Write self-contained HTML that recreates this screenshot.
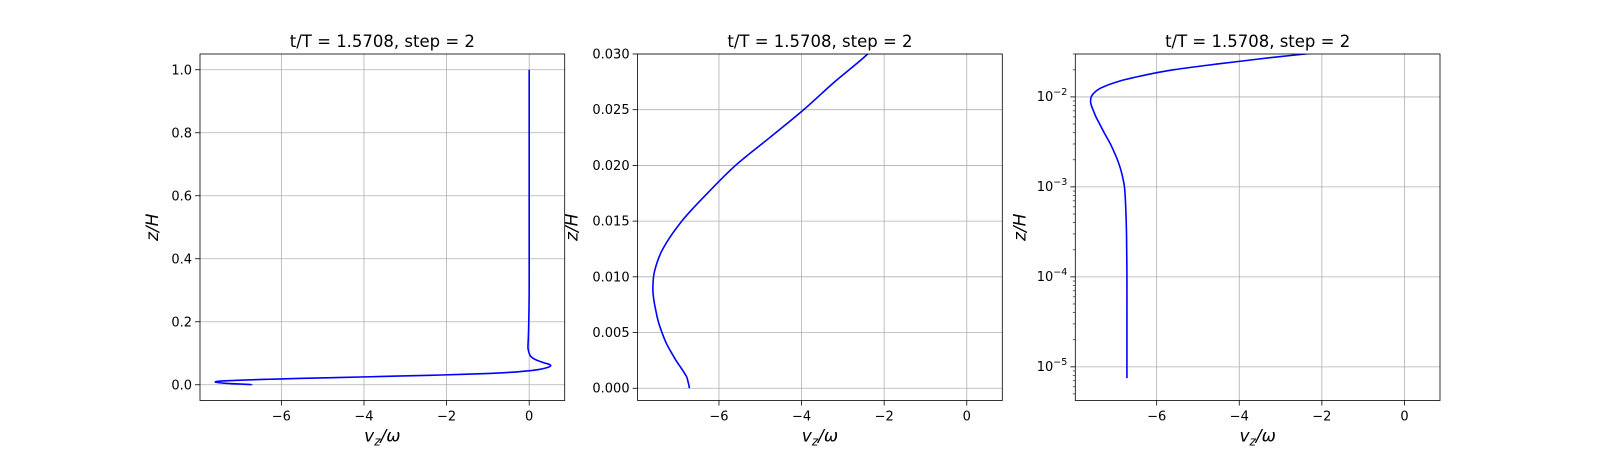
<!DOCTYPE html>
<html><head><meta charset="utf-8"><style>
body{margin:0;background:#fff;}
svg{display:block;font-family:"DejaVu Sans","Liberation Sans",sans-serif;}
</style></head><body>
<svg id="fig" width="1600" height="450" viewBox="0 0 1600 450" xmlns="http://www.w3.org/2000/svg"></svg>
<script>
const zVals=[7.5e-6,1e-5,3e-5,1e-4,3e-4,6e-4,1e-3,1.5e-3,2e-3,2.5e-3,3e-3,4e-3,5e-3,6e-3,7e-3,8e-3,9e-3,0.0105,0.0125,0.015,0.0175,0.02,0.0225,0.025,0.0275,0.03,0.033,0.036,0.04,0.045,0.05,0.055,0.06,0.065,0.07,0.08,0.09,0.1,0.11,0.12,0.15,0.2,0.3,0.5,0.7,1.0];
const vzVals=[-6.72,-6.72,-6.72,-6.72,-6.73,-6.75,-6.78,-6.86,-6.95,-7.04,-7.12,-7.27,-7.38,-7.47,-7.53,-7.58,-7.6,-7.56,-7.36,-6.9,-6.28,-5.6,-4.77,-3.95,-3.2,-2.4,-1.6,-0.95,-0.4,0.05,0.3,0.45,0.52,0.48,0.35,0.15,0.04,0.0,-0.02,-0.03,-0.02,-0.01,0,0,0,0];
const xTicks=[-6,-4,-2,0];
const y1Ticks=[0,0.2,0.4,0.6,0.8,1.0];
const y2Ticks=[0,0.005,0.01,0.015,0.02,0.025,0.03];
const y3Decades=[-5,-4,-3,-2];
const titleText="t/T = 1.5708, step = 2";

const svg=document.getElementById('fig');
const NS="http://www.w3.org/2000/svg";
function mk(tag,attrs,parent){const e=document.createElementNS(NS,tag);for(const k in attrs)e.setAttribute(k,attrs[k]);(parent||svg).appendChild(e);return e;}
function smoothPath(pts){
 let d='M'+pts[0][0].toFixed(2)+','+pts[0][1].toFixed(2);
 for(let i=0;i<pts.length-1;i++){
  const p0=pts[Math.max(0,i-1)],p1=pts[i],p2=pts[i+1],p3=pts[Math.min(pts.length-1,i+2)];
  const t=1/6;
  const c1=[p1[0]+(p2[0]-p0[0])*t,p1[1]+(p2[1]-p0[1])*t];
  const c2=[p2[0]-(p3[0]-p1[0])*t,p2[1]-(p3[1]-p1[1])*t];
  d+='C'+c1[0].toFixed(2)+','+c1[1].toFixed(2)+' '+c2[0].toFixed(2)+','+c2[1].toFixed(2)+' '+p2[0].toFixed(2)+','+p2[1].toFixed(2);
 }
 return d;
}
const XMIN=-7.97,XMAX=0.86,TOP=54,H=346.5,W=364.7;
const panels=[
 {x0:200,type:'lin',ymin:-0.05,ymax:1.05,ticks:y1Ticks,fmt:v=>v.toFixed(1)},
 {x0:637.6,type:'lin',ymin:-0.0011,ymax:0.03,ticks:y2Ticks,fmt:v=>v.toFixed(3)},
 {x0:1075.3,type:'log',ymin:-5.374,ymax:Math.log10(0.03)}
];
panels.forEach((p,i)=>{
 const g=mk('g',{});
 
 
 const sx=v=>p.x0+(v-XMIN)/(XMAX-XMIN)*W;
 const sy=v=>{const t=p.type==='log'?Math.log10(v):v;return TOP+H-(t-p.ymin)/(p.ymax-p.ymin)*H;};
 xTicks.forEach(t=>{
  const x=sx(t);
  const gl=mk('line',{x1:x,x2:x,y1:TOP,y2:TOP+H,stroke:'#b0b0b0','stroke-width':0.8},g);
  
  
  mk('line',{x1:x,x2:x,y1:TOP+H,y2:TOP+H+5,stroke:'#000','stroke-width':0.8},g);
  const tl=mk('text',{x:x,y:TOP+H+20,'text-anchor':'middle','font-size':13},g);
  tl.textContent=(t<0?'\u2212'+(-t):String(t));
  
  
 });
 if(p.type==='lin'){
  p.ticks.forEach(t=>{
   const y=sy(t);
   const gl=mk('line',{x1:p.x0,x2:p.x0+W,y1:y,y2:y,stroke:'#b0b0b0','stroke-width':0.8},g);
   
   
   mk('line',{x1:p.x0-5,x2:p.x0,y1:y,y2:y,stroke:'#000','stroke-width':0.8},g);
   const tl=mk('text',{x:p.x0-8,y:y+4.5,'text-anchor':'end','font-size':13},g);
   tl.textContent=p.fmt(t);
   
   
  });
 } else {
  for(let d=-6;d<=-1;d++){for(let m=2;m<=9;m++){const v=m*Math.pow(10,d);const lv=Math.log10(v);if(lv<p.ymin||lv>p.ymax)continue;const y=sy(v);mk('line',{x1:p.x0-2.5,x2:p.x0,y1:y,y2:y,stroke:'#000','stroke-width':0.6},g);}}
  y3Decades.forEach(d=>{
   const y=sy(Math.pow(10,d));
   const gl=mk('line',{x1:p.x0,x2:p.x0+W,y1:y,y2:y,stroke:'#b0b0b0','stroke-width':0.8},g);
   
   
   mk('line',{x1:p.x0-5,x2:p.x0,y1:y,y2:y,stroke:'#000','stroke-width':0.8},g);
   const tl=mk('text',{x:p.x0-8,y:y+4,'text-anchor':'end','font-size':13},g);
   
   
   tl.textContent='10';
   const sp=mk('tspan',{dy:-6,'font-size':9.5},tl);
   sp.textContent='\u2212'+(-d);
  });
 }
 const pts=zVals.map((z,k)=>{const zz=(p.type==='lin'&&k===0)?0:z;return [sx(vzVals[k]),sy(zz)];});
 const cid='clip'+i;
 const cp=mk('clipPath',{id:cid},g);mk('rect',{x:p.x0,y:TOP,width:W,height:H},cp);
 const path=mk('path',{d:smoothPath(pts),fill:'none',stroke:'#0000ff','stroke-width':1.6,'stroke-linejoin':'round','clip-path':'url(#'+cid+')'},g);
 
 
 const fr=mk('rect',{x:p.x0,y:TOP,width:W,height:H,fill:'none',stroke:'#000','stroke-width':0.8},g);
 
 
 const tt=mk('text',{x:p.x0+W/2,y:TOP-7,'text-anchor':'middle','font-size':16.5},g);
 tt.textContent=titleText;
 
 
 const xl=mk('text',{x:p.x0+W/2,y:TOP+H+41,'text-anchor':'middle','font-size':17,'font-style':'italic'},g);
 
 
 xl.textContent='v';
 const s1=mk('tspan',{dy:4,'font-size':12},xl);s1.textContent='z';
 const s2=mk('tspan',{dy:-4},xl);s2.textContent='/ω';
 const lx=p.type==='log'?p.x0-50:(i===0?p.x0-42:p.x0-60);
 const yl=mk('text',{x:lx,y:TOP+H/2,'text-anchor':'middle','font-size':17,'font-style':'italic',transform:'rotate(-90 '+lx+' '+(TOP+H/2)+')'},g);
 yl.textContent='z/H';
 
 
});
</script>
</body></html>
